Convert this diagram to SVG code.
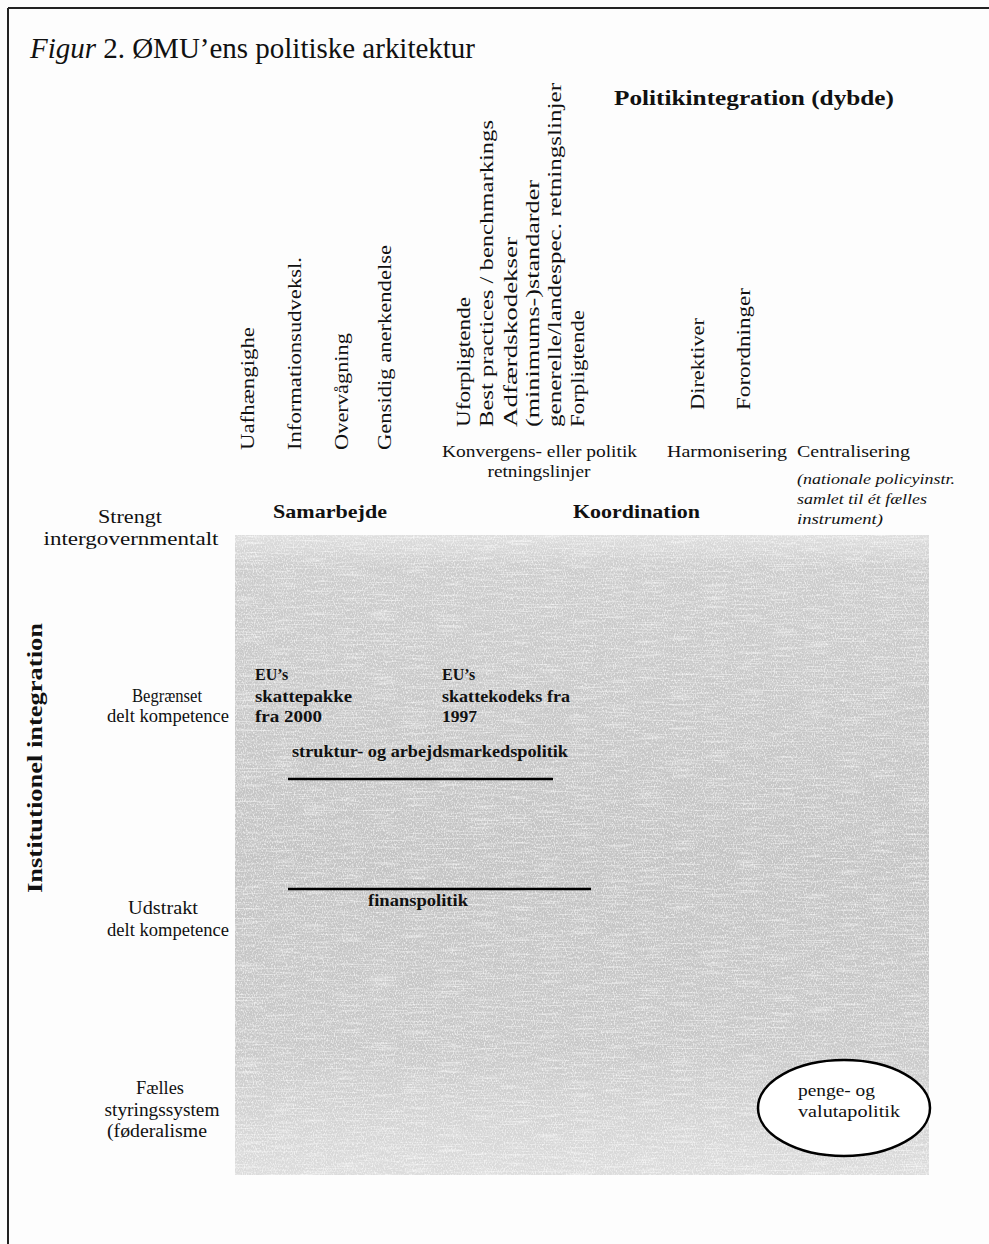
<svg xmlns="http://www.w3.org/2000/svg" width="989" height="1244" viewBox="0 0 989 1244">
<style>
  text { font-family: "Liberation Serif", "Times New Roman", serif; fill: #111; }
  .title { font-size: 29px; }
  .rot { font-size: 18px; }
  .hdr { font-size: 17px; }
  .lbl { font-size: 18px; }
  .bold { font-weight: bold; }
  .it { font-style: italic; font-size: 15px; }
  .cell { font-size: 16px; font-weight: bold; }
  .frame { stroke: #222; stroke-width: 2; fill: none; }
  .bar { stroke: #000; stroke-width: 2.5; }
</style>
<defs>
  <linearGradient id="greyfill" x1="0" y1="0" x2="0" y2="1">
    <stop offset="0" stop-color="#dedede"/>
    <stop offset="0.05" stop-color="#cccccc"/>
    <stop offset="0.5" stop-color="#c3c3c3"/>
    <stop offset="0.8" stop-color="#c8c8c8"/>
    <stop offset="1" stop-color="#dcdcdc"/>
  </linearGradient>
  <filter id="grain" x="0" y="0" width="1" height="1" filterUnits="objectBoundingBox">
    <feTurbulence type="fractalNoise" baseFrequency="0.9 0.5" numOctaves="2" seed="7" result="n"/>
    <feColorMatrix in="n" type="matrix" values="0 0 0 0 1  0 0 0 0 1  0 0 0 0 1  3.5 0 0 0 -1.6"/>
  </filter>
  <filter id="streak" x="0" y="0" width="1" height="1" filterUnits="objectBoundingBox">
    <feTurbulence type="fractalNoise" baseFrequency="0.03 0.7" numOctaves="2" seed="3" result="s"/>
    <feColorMatrix in="s" type="matrix" values="0 0 0 0 1  0 0 0 0 1  0 0 0 0 1  3 0 0 0 -1.5"/>
  </filter>
</defs>

<rect width="989" height="1244" fill="#fdfdfd"/>

<g id="frame">
  <line class="frame" x1="8" y1="8" x2="989" y2="8"/>
  <line class="frame" x1="8" y1="8" x2="8" y2="1244"/>
</g>

<g id="title">
  <text class="title" x="30" y="58" textLength="445"><tspan font-style="italic">Figur</tspan> 2. ØMU’ens politiske arkitektur</text>
</g>

<g id="grey-field">
  <rect x="235" y="535" width="694" height="640" fill="url(#greyfill)"/>
  <rect x="235" y="535" width="694" height="640" fill="#fff" filter="url(#streak)" opacity="0.45"/>
  <rect x="235" y="535" width="694" height="640" fill="#fff" filter="url(#grain)" opacity="0.6"/>
</g>

<g id="axis-x-title">
  <text class="bold" x="614" y="105" font-size="20" textLength="280" lengthAdjust="spacingAndGlyphs">Politikintegration (dybde)</text>
</g>

<g id="axis-y-title">
  <text class="bold" font-size="21" transform="translate(42,893) rotate(-90)" textLength="270" lengthAdjust="spacingAndGlyphs">Institutionel integration</text>
</g>

<g id="instruments-samarbejde">
  <text class="rot" transform="translate(254,450) rotate(-90)" textLength="123" lengthAdjust="spacingAndGlyphs">Uafhængighe</text>
  <text class="rot" transform="translate(301,450) rotate(-90)" textLength="193" lengthAdjust="spacingAndGlyphs">Informationsudveksl.</text>
  <text class="rot" transform="translate(348,450) rotate(-90)" textLength="117" lengthAdjust="spacingAndGlyphs">Overvågning</text>
  <text class="rot" transform="translate(391,450) rotate(-90)" textLength="205" lengthAdjust="spacingAndGlyphs">Gensidig anerkendelse</text>
</g>

<g id="instruments-koordination">
  <text class="rot" transform="translate(470,427) rotate(-90)" textLength="130" lengthAdjust="spacingAndGlyphs">Uforpligtende</text>
  <text class="rot" transform="translate(493,427) rotate(-90)" textLength="307" lengthAdjust="spacingAndGlyphs">Best practices / benchmarkings</text>
  <text class="rot" transform="translate(517,427) rotate(-90)" textLength="190" lengthAdjust="spacingAndGlyphs">Adfærdskodekser</text>
  <text class="rot" transform="translate(539,427) rotate(-90)" textLength="247" lengthAdjust="spacingAndGlyphs">(minimums-)standarder</text>
  <text class="rot" transform="translate(561,427) rotate(-90)" textLength="344" lengthAdjust="spacingAndGlyphs">generelle/landespec. retningslinjer</text>
  <text class="rot" transform="translate(584,427) rotate(-90)" textLength="117" lengthAdjust="spacingAndGlyphs">Forpligtende</text>
</g>

<g id="instruments-harmonisering">
  <text class="rot" transform="translate(704,410) rotate(-90)" textLength="92" lengthAdjust="spacingAndGlyphs">Direktiver</text>
  <text class="rot" transform="translate(750,410) rotate(-90)" textLength="122" lengthAdjust="spacingAndGlyphs">Forordninger</text>
</g>

<g id="column-headers">
  <text class="hdr" x="442" y="457" textLength="195" lengthAdjust="spacingAndGlyphs">Konvergens- eller politik</text>
  <text class="hdr" x="539" y="477" text-anchor="middle" textLength="103" lengthAdjust="spacingAndGlyphs">retningslinjer</text>
  <text class="hdr" x="667" y="457" textLength="120" lengthAdjust="spacingAndGlyphs">Harmonisering</text>
  <text class="hdr" x="797" y="457" textLength="113" lengthAdjust="spacingAndGlyphs">Centralisering</text>
  <text class="it" x="797" y="484" textLength="158" lengthAdjust="spacingAndGlyphs">(nationale policyinstr.</text>
  <text class="it" x="797" y="504" textLength="130" lengthAdjust="spacingAndGlyphs">samlet til ét fælles</text>
  <text class="it" x="797" y="524" textLength="86" lengthAdjust="spacingAndGlyphs">instrument)</text>
  <text class="bold" x="273" y="518" font-size="19" textLength="114" lengthAdjust="spacingAndGlyphs">Samarbejde</text>
  <text class="bold" x="573" y="518" font-size="19" textLength="127" lengthAdjust="spacingAndGlyphs">Koordination</text>
</g>

<g id="row-labels">
  <text class="lbl" x="130" y="523" text-anchor="middle" textLength="64" lengthAdjust="spacingAndGlyphs">Strengt</text>
  <text class="lbl" x="131" y="545" text-anchor="middle" textLength="175" lengthAdjust="spacingAndGlyphs">intergovernmentalt</text>
  <text class="lbl" x="167" y="702" text-anchor="middle" textLength="70" lengthAdjust="spacingAndGlyphs">Begrænset</text>
  <text class="lbl" x="168" y="722" text-anchor="middle" textLength="122" lengthAdjust="spacingAndGlyphs">delt kompetence</text>
  <text class="lbl" x="163" y="914" text-anchor="middle" textLength="70" lengthAdjust="spacingAndGlyphs">Udstrakt</text>
  <text class="lbl" x="168" y="936" text-anchor="middle" textLength="122" lengthAdjust="spacingAndGlyphs">delt kompetence</text>
  <text class="lbl" x="160" y="1094" text-anchor="middle" textLength="48" lengthAdjust="spacingAndGlyphs">Fælles</text>
  <text class="lbl" x="162" y="1116" text-anchor="middle" textLength="115" lengthAdjust="spacingAndGlyphs">styringssystem</text>
  <text class="lbl" x="157" y="1137" text-anchor="middle" textLength="100" lengthAdjust="spacingAndGlyphs">(føderalisme</text>
</g>

<g id="skattepakke">
  <text class="cell" x="255" y="680">EU’s</text>
  <text class="cell" x="255" y="702" textLength="97" lengthAdjust="spacingAndGlyphs">skattepakke</text>
  <text class="cell" x="255" y="722" textLength="67" lengthAdjust="spacingAndGlyphs">fra 2000</text>
</g>

<g id="skattekodeks">
  <text class="cell" x="442" y="680">EU’s</text>
  <text class="cell" x="442" y="702" textLength="128" lengthAdjust="spacingAndGlyphs">skattekodeks fra</text>
  <text class="cell" x="442" y="722" textLength="35" lengthAdjust="spacingAndGlyphs">1997</text>
</g>

<g id="struktur">
  <text class="cell" x="292" y="757" textLength="276" lengthAdjust="spacingAndGlyphs">struktur- og arbejdsmarkedspolitik</text>
</g>

<g id="finans">
  <text class="cell" x="368" y="906" textLength="100" lengthAdjust="spacingAndGlyphs">finanspolitik</text>
</g>

<g id="connectors">
  <line class="bar" x1="288" y1="779" x2="553" y2="779"/>
  <line class="bar" x1="288" y1="889" x2="591" y2="889"/>
</g>

<g id="penge">
  <ellipse cx="844" cy="1108" rx="86" ry="48" fill="#fff" stroke="#000" stroke-width="2.5"/>
  <text x="798" y="1096" font-size="16" textLength="77" lengthAdjust="spacingAndGlyphs">penge- og</text>
  <text x="798" y="1117" font-size="16" textLength="102" lengthAdjust="spacingAndGlyphs">valutapolitik</text>
</g>
</svg>
